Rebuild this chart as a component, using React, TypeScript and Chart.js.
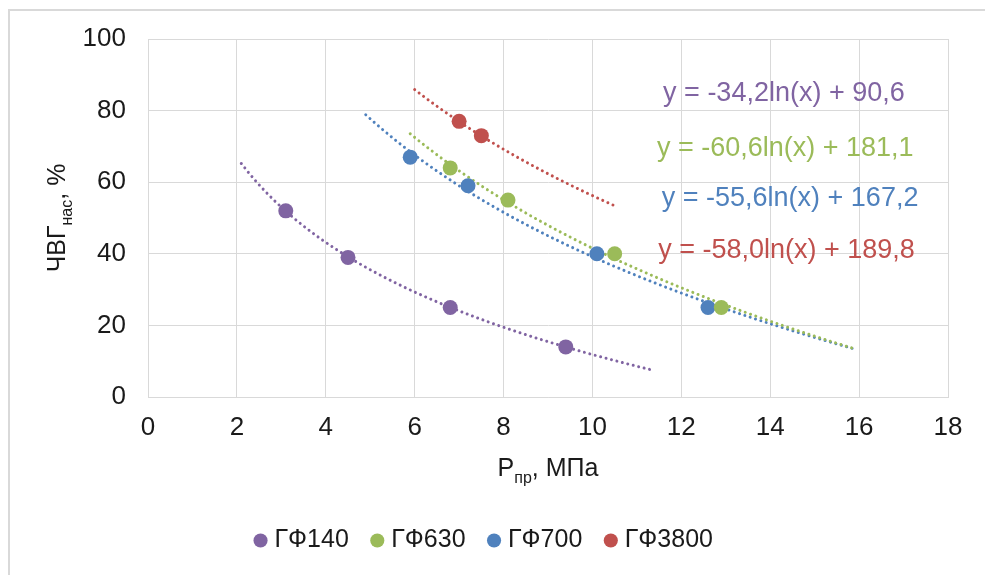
import React, { useEffect, useRef } from 'react';
import { Chart, registerables } from 'chart.js';

Chart.register(...registerables);

// ---- data ----
const seriesNames = ['ГФ140', 'ГФ630', 'ГФ700', 'ГФ3800'];
const gf140X = [3.1, 4.5, 6.8, 9.4];
const gf140Y = [52, 39, 25, 14];
const gf630X = [6.8, 8.1, 10.5, 12.9];
const gf630Y = [64, 55, 40, 25];
const gf700X = [5.9, 7.2, 10.1, 12.6];
const gf700Y = [67, 59, 40, 25];
const gf3800X = [7.0, 7.5];
const gf3800Y = [77, 73];

// logarithmic trendlines y = a*ln(x) + b, as printed on the chart
const trendA = [-34.2, -60.6, -55.6, -58.0];
const trendB = [90.6, 181.1, 167.2, 189.8];
const trendFrom = [2.1, 5.9, 4.9, 6.0];
const trendTo = [11.3, 15.9, 15.9, 10.5];
const equationTexts = [
  'y = -34,2ln(x) + 90,6',
  'y = -60,6ln(x) + 181,1',
  'y = -55,6ln(x) + 167,2',
  'y = -58,0ln(x) + 189,8',
];

const xTickValues = [0, 2, 4, 6, 8, 10, 12, 14, 16, 18];
const yTickValues = [0, 20, 40, 60, 80, 100];

// ---- styles / positions ----
const COLORS = ['#8064A2', '#9BBB59', '#4F81BD', '#C0504D'];
const TEXT = '#1a1a1a';
const GRID = '#d9d9d9';
const FONT = "'Liberation Sans', Arial, sans-serif";
const eqAnchorX = [11.59, 11.45, 11.56, 11.48];
const eqAnchorY = [82.6, 67.2, 53.3, 38.9];

const xsList = [gf140X, gf630X, gf700X, gf3800X];
const ysList = [gf140Y, gf630Y, gf700Y, gf3800Y];

function trendPoints(i: number) {
  const pts: { x: number; y: number }[] = [];
  const n = 60;
  for (let k = 0; k <= n; k++) {
    const x = trendFrom[i] + ((trendTo[i] - trendFrom[i]) * k) / n;
    pts.push({ x, y: trendA[i] * Math.log(x) + trendB[i] });
  }
  return pts;
}

function drawComposite(
  ctx: CanvasRenderingContext2D,
  parts: { t: string; sub?: boolean }[],
  cx: number,
  baseY: number,
  mainSize: number,
  subSize: number,
  subShift: number
) {
  const widths = parts.map((p) => {
    ctx.font = `${p.sub ? subSize : mainSize}px ${FONT}`;
    return ctx.measureText(p.t).width;
  });
  const total = widths.reduce((a, b) => a + b, 0);
  let x = cx - total / 2;
  ctx.textAlign = 'left';
  ctx.textBaseline = 'alphabetic';
  parts.forEach((p, i) => {
    ctx.font = `${p.sub ? subSize : mainSize}px ${FONT}`;
    ctx.fillText(p.t, x, baseY + (p.sub ? subShift : 0));
    x += widths[i];
  });
}

const annotationPlugin = {
  id: 'annotations',
  afterDraw(chart: any) {
    const { ctx, chartArea, scales } = chart;
    ctx.save();
    // equations
    ctx.font = `27px ${FONT}`;
    ctx.textAlign = 'left';
    ctx.textBaseline = 'alphabetic';
    equationTexts.forEach((t, i) => {
      ctx.fillStyle = COLORS[i];
      ctx.fillText(t, scales.x.getPixelForValue(eqAnchorX[i]), scales.y.getPixelForValue(eqAnchorY[i]));
    });
    ctx.fillStyle = TEXT;
    // x title
    const cx = (chartArea.left + chartArea.right) / 2;
    drawComposite(ctx, [{ t: 'P' }, { t: 'пр', sub: true }, { t: ', МПа' }], cx, chartArea.bottom + 79, 25, 16, 7);
    // y title
    const cy = (chartArea.top + chartArea.bottom) / 2;
    ctx.translate(chartArea.left - 83, cy);
    ctx.rotate(-Math.PI / 2);
    drawComposite(ctx, [{ t: 'ЧВГ' }, { t: 'нас', sub: true }, { t: ', %' }], 0, 0, 25, 16, 7);
    ctx.restore();
  },
};

export default function App() {
  const canvasRef = useRef<HTMLCanvasElement>(null);

  useEffect(() => {
    if (!canvasRef.current) return;
    const scatterSets = seriesNames.map((name, i) => ({
      type: 'scatter' as const,
      label: name,
      data: xsList[i].map((x, k) => ({ x, y: ysList[i][k] })),
      backgroundColor: COLORS[i],
      borderColor: COLORS[i],
      pointRadius: 7.5,
      pointHoverRadius: 7.5,
      pointBorderWidth: 0,
      showLine: false,
    }));
    const trendSets = seriesNames.map((name, i) => ({
      type: 'line' as const,
      label: 'trend ' + name,
      data: trendPoints(i),
      borderColor: COLORS[i],
      backgroundColor: COLORS[i],
      borderWidth: 3,
      borderDash: [0.01, 5.6],
      borderCapStyle: 'round' as const,
      pointRadius: 0,
      fill: false,
      tension: 0,
    }));

    const chart = new Chart(canvasRef.current, {
      type: 'scatter',
      data: { datasets: [...scatterSets, ...trendSets] as any },
      options: {
        animation: false,
        responsive: true,
        maintainAspectRatio: false,
        layout: { padding: { left: 0, top: 28, right: 23, bottom: 12 } },
        plugins: {
          tooltip: { enabled: false },
          legend: {
            position: 'bottom',
            labels: {
              usePointStyle: true,
              pointStyle: 'circle',
              boxWidth: 3,
              boxHeight: 10,
              padding: 27,
              color: TEXT,
              font: { family: FONT, size: 25 },
              filter: (item: any) => item.datasetIndex < seriesNames.length,
            },
          },
        },
        scales: {
          x: {
            type: 'linear',
            min: xTickValues[0],
            max: xTickValues[xTickValues.length - 1],
            afterBuildTicks: (s: any) => {
              s.ticks = xTickValues.map((v) => ({ value: v }));
            },
            afterFit: (s: any) => {
              s.height = 104;
            },
            grid: { color: GRID, lineWidth: 1, drawTicks: false, tickLength: 0 },
            border: { display: true, color: GRID, width: 1 },
            ticks: { color: TEXT, font: { family: FONT, size: 26 }, padding: 15, maxRotation: 0 },
          },
          y: {
            type: 'linear',
            min: yTickValues[0],
            max: yTickValues[yTickValues.length - 1],
            afterBuildTicks: (s: any) => {
              s.ticks = yTickValues.map((v) => ({ value: v }));
            },
            afterFit: (s: any) => {
              s.width = 138;
            },
            grid: { color: GRID, lineWidth: 1, drawTicks: true, tickLength: 22, tickColor: 'rgba(0,0,0,0)' },
            border: { display: true, color: GRID, width: 1 },
            ticks: { color: TEXT, font: { family: FONT, size: 26 }, padding: 0 },
          },
          y2: {
            type: 'linear',
            position: 'right',
            display: true,
            grid: { display: false, drawTicks: false },
            border: { display: false },
            ticks: { display: false },
            afterFit: (s: any) => {
              s.width = 14;
            },
          },
        },
      },
      plugins: [annotationPlugin],
    } as any);
    return () => chart.destroy();
  }, []);

  return (
    <div
      style={{
        position: 'absolute',
        left: 8,
        top: 9,
        width: 977,
        height: 566,
        borderLeft: `2px solid ${GRID}`,
        borderTop: `2px solid ${GRID}`,
        boxSizing: 'border-box',
        background: '#fff',
      }}
    >
      <div style={{ position: 'relative', width: 975, height: 564 }}>
        <canvas ref={canvasRef} />
      </div>
    </div>
  );
}
